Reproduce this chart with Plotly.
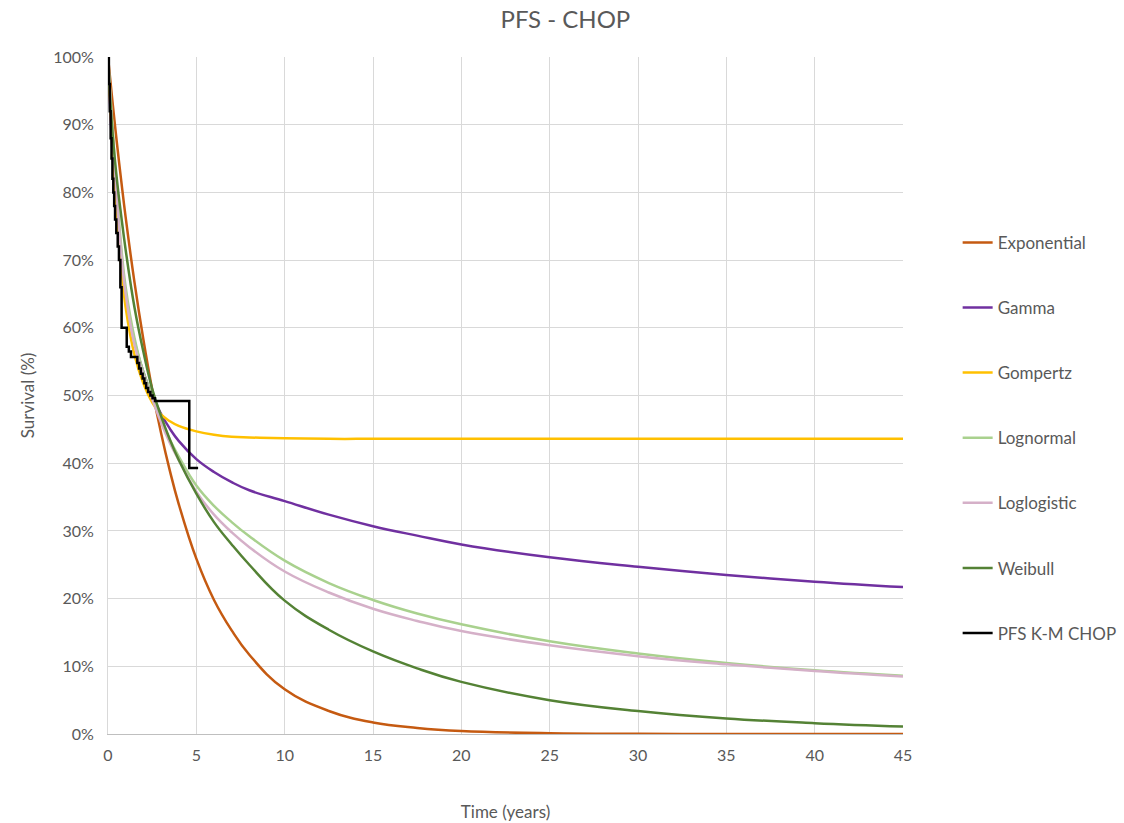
import plotly.graph_objects as go

# Time grid for the fitted model curves (years)
time_years = [0, 0.25, 0.5, 0.75, 1, 1.5, 2, 2.5, 3, 3.5, 4, 5, 6, 7, 8, 10,
              12.5, 15, 17.5, 20, 25, 30, 35, 40, 45]

# Survival values (%)
exponential = [100, 93.5, 87.4, 81.7, 76.3, 66.7, 58.3, 50.9, 44.5, 38.9, 34.0,
               25.9, 19.8, 15.3, 11.7, 6.6, 3.4, 1.7, 0.9, 0.45, 0.12, 0.03, 0.01, 0, 0]
gamma = [100, 86, 77, 70, 65, 58, 53.5, 50, 47.3, 45.1, 43.3,
         40.6, 38.7, 37.2, 36.0, 34.4, 32.4, 30.7, 29.3, 28.0, 26.1, 24.7, 23.5, 22.5, 21.7]
gompertz = [100, 87, 77, 69, 63, 56, 51.8, 49, 47.2, 46.2, 45.5,
            44.7, 44.2, 43.9, 43.8, 43.7, 43.6, 43.6, 43.6, 43.6, 43.6, 43.6, 43.6, 43.6, 43.6]
lognormal = [100, 90, 80, 72, 66, 58.5, 53.5, 50, 46.5, 43.5, 41,
             36.7, 33.7, 31.3, 29.2, 25.6, 22.3, 19.8, 17.8, 16.2, 13.7, 11.9, 10.5, 9.4, 8.6]
loglogistic = [100, 89, 79, 71, 65, 57.5, 53, 49.5, 46, 43, 40.5,
               35.8, 32.4, 29.8, 27.6, 24.0, 20.9, 18.5, 16.7, 15.2, 13.1, 11.5, 10.3, 9.3, 8.5]
weibull = [100, 89, 82, 76.5, 71.5, 63, 56.5, 51, 47, 43.5, 40.5,
           35.5, 31.3, 28.0, 25.0, 19.7, 15.4, 12.2, 9.7, 7.7, 5.0, 3.4, 2.3, 1.6, 1.1]

# Kaplan-Meier step data
km_time = [0, 0.05, 0.1, 0.15, 0.2, 0.25, 0.3, 0.35, 0.4, 0.47, 0.55, 0.62, 0.7,
           0.77, 1.06, 1.18, 1.3, 1.66, 1.76, 1.86, 1.96, 2.06, 2.16, 2.27, 2.4,
           2.52, 2.66, 4.6, 5.1]
km_surv = [100, 96, 92, 88, 85, 82, 80, 78, 76, 74, 72, 70, 66,
           60, 57.2, 56.5, 55.7, 54.8, 54.0, 53.2, 52.5, 51.8, 51.1, 50.5, 50.0,
           49.6, 49.2, 39.3, 39.3]

series = [
    ("Exponential", exponential, "#C55A11"),
    ("Gamma", gamma, "#7030A0"),
    ("Gompertz", gompertz, "#FFC000"),
    ("Lognormal", lognormal, "#A9D18E"),
    ("Loglogistic", loglogistic, "#D5B0C8"),
    ("Weibull", weibull, "#548235"),
]

font_family = "Lato, Liberation Sans, Arial, sans-serif"
grey = "#595959"

fig = go.Figure()
for name, vals, color in series:
    fig.add_trace(go.Scatter(
        x=time_years, y=[v / 100 for v in vals], name=name, mode="lines",
        line=dict(color=color, width=2.5, shape="spline", smoothing=1.2),
        legendgroup=name,
    ))

fig.add_trace(go.Scatter(
    x=km_time, y=[v / 100 for v in km_surv], name="PFS K-M CHOP", mode="lines",
    line=dict(color="#000000", width=2.5, shape="hv"),
    legendgroup="km",
))

fig.update_layout(
    width=1124, height=823,
    margin=dict(l=108, r=221, t=57, b=89, autoexpand=False),
    paper_bgcolor="white", plot_bgcolor="white",
    font=dict(family=font_family, size=16, color=grey),
    title=dict(text="PFS - CHOP", x=0.503, xanchor="center", y=0.976, yanchor="middle",
               font=dict(size=24, color=grey)),
    legend=dict(xref="container", yref="container", x=0.852, xanchor="left",
                y=0.468, yanchor="middle", maxheight=760,
                tracegroupgap=40, font=dict(size=17, color=grey),
                bgcolor="rgba(0,0,0,0)"),
    showlegend=True,
)
fig.update_xaxes(
    range=[0, 45], dtick=5, tick0=0, showgrid=True, gridcolor="#D9D9D9", gridwidth=1,
    zeroline=False, showline=True, linecolor="#BFBFBF", linewidth=1,
    ticks="", ticklabelstandoff=7, tickfont=dict(size=16, color=grey),
    title=dict(text="Time (years)", font=dict(size=17, color=grey), standoff=42),
)
fig.update_yaxes(
    range=[0, 1], dtick=0.1, tick0=0, tickformat=".0%", showgrid=True,
    gridcolor="#D9D9D9", gridwidth=1, zeroline=False, showline=True,
    linecolor="#D9D9D9", ticks="", ticklabelstandoff=10, tickfont=dict(size=16, color=grey),
    title=dict(text="Survival (%)", font=dict(size=17, color=grey), standoff=14),
)

fig.write_html("out.html")
